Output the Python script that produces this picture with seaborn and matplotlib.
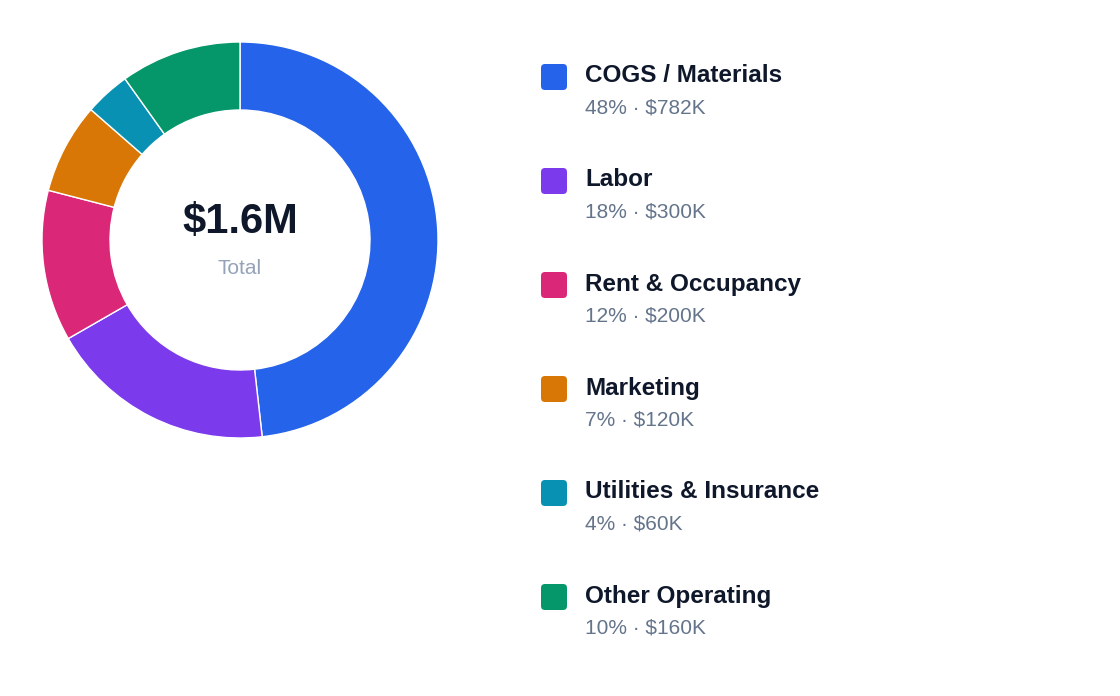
import matplotlib
matplotlib.use("Agg")
import matplotlib.pyplot as plt
import seaborn as sns
from matplotlib.patches import FancyBboxPatch

categories = ["COGS / Materials", "Labor", "Rent & Occupancy", "Marketing",
              "Utilities & Insurance", "Other Operating"]
values = [782, 300, 200, 120, 60, 160]
pct_labels = ["48%", "18%", "12%", "7%", "4%", "10%"]
value_labels = ["$782K", "$300K", "$200K", "$120K", "$60K", "$160K"]
colors = ["#2563eb", "#7c3aed", "#db2777", "#d97706", "#0891b2", "#059669"]
total_label = "$1.6M"

sns.set_theme(style="white")
plt.rcParams['font.family'] = ['Liberation Sans', 'DejaVu Sans']
pal = sns.color_palette(colors)

W, H = 1120, 696
fig = plt.figure(figsize=(W / 100, H / 100), dpi=100)
fig.patch.set_facecolor("white")

# donut
cx, cy, R = 240, 240, 198
ax = fig.add_axes([(cx - 200) / W, 1 - (cy + 200) / H, 400 / W, 400 / H])
ax.pie(values, colors=pal, startangle=90, counterclock=False, radius=R / 200,
       wedgeprops=dict(width=(R - 130) / 200, edgecolor="white", linewidth=1))
ax.set_xlim(-1, 1); ax.set_ylim(-1, 1); ax.set_aspect("equal"); ax.axis("off")
ax.text(0, 0.09, total_label, ha="center", va="center", fontsize=30,
        fontweight="bold", color="#0f172a")
ax.text(0, -0.14, "Total", ha="center", va="center", fontsize=15, color="#94a3b8")

# legend overlay
ov = fig.add_axes([0, 0, 1, 1])
ov.set_xlim(0, W); ov.set_ylim(H, 0); ov.axis("off")
for i, (c, p, v) in enumerate(zip(categories, pct_labels, value_labels)):
    y = 76 + i * 104
    ov.add_patch(FancyBboxPatch((541, y - 12), 26, 26,
                                boxstyle="round,pad=0,rounding_size=4",
                                facecolor=pal[i], edgecolor="none"))
    ov.text(585, y, c, ha="left", va="center", fontsize=17.5,
            fontweight="bold", color="#0f172a")
    ov.text(585, y + 32, f"{p} · {v}", ha="left", va="center",
            fontsize=15, color="#64748b")

fig.savefig("out.png", dpi=100, facecolor="white")
